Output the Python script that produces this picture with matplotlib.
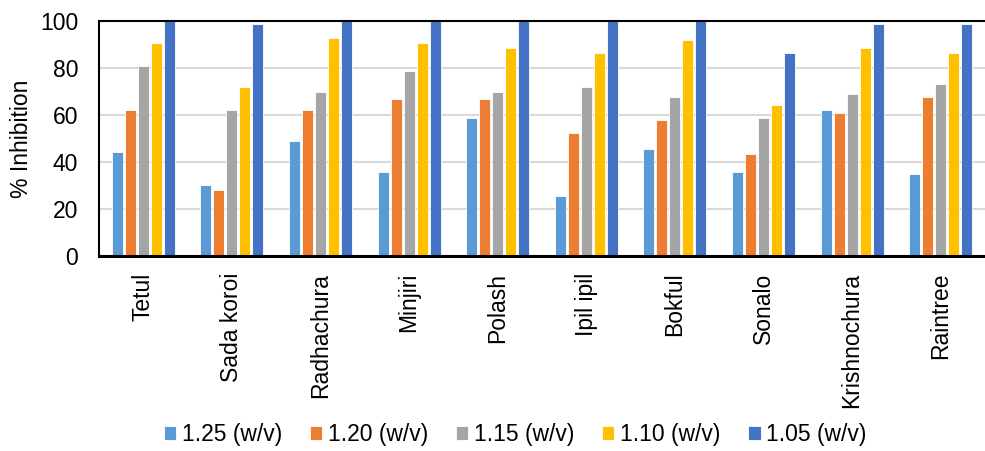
import numpy as np
import matplotlib
matplotlib.use("Agg")
import matplotlib.pyplot as plt

plt.rcParams['font.family'] = ['Liberation Sans', 'DejaVu Sans']

# nombres de las plantas y concentraciones
plantas = ["Tetul", "Sada koroi", "Radhachura", "Minjiri", "Polash",
           "Ipil ipil", "Bokful", "Sonalo", "Krishnochura", "Raintree"]
series = ["1.25 (w/v)", "1.20 (w/v)", "1.15 (w/v)", "1.10 (w/v)", "1.05 (w/v)"]

c125 = [44.4, 30.2, 48.9, 35.7, 58.9, 25.7, 45.5, 35.7, 62.1, 34.8]
c120 = [62.1, 27.9, 62.1, 66.7, 66.7, 52.2, 57.7, 43.4, 61.0, 67.7]
c115 = [80.9, 62.1, 69.8, 78.7, 69.8, 72.1, 67.7, 58.9, 68.8, 73.2]
c110 = [90.8, 72.1, 92.9, 90.8, 88.5, 86.4, 91.8, 64.3, 88.5, 86.4]
c105 = [100, 98.6, 100, 100, 100, 100, 100, 86.4, 98.6, 98.6]

colores = ["#5B9BD5", "#ED7D31", "#A5A5A5", "#FFC000", "#4472C4"]

fig = plt.figure(figsize=(9.85, 4.51), dpi=100)
ax = fig.add_axes([99 / 985, 1 - 256 / 451, 1 - 99 / 985, 235 / 451])

x = np.arange(len(plantas))
paso = 0.147
ancho = 0.125
for i, (vals, nombre) in enumerate(zip([c125, c120, c115, c110, c105], series)):
    ax.bar(x + (i - 2) * paso, vals, width=ancho, color=colores[i],
           edgecolor="white", linewidth=0.6, label=nombre, zorder=3)

ax.set_xlim(-0.5, len(plantas) - 0.5)
ax.set_ylim(0, 100)
ax.set_yticks([0, 20, 40, 60, 80, 100])
ax.yaxis.grid(True, color="#D9D9D9", linewidth=1.5, zorder=0)
ax.set_xticks(x)
ax.set_xticklabels(plantas, rotation=90, fontsize=16.5)
ax.tick_params(axis="y", labelsize=16.5, length=0, pad=15)
ax.tick_params(axis="x", length=0, pad=12)
ax.set_ylabel("% Inhibition", fontsize=16.5, labelpad=5)

for lado in ["left", "top"]:
    ax.spines[lado].set_color("black")
    ax.spines[lado].set_linewidth(1.5)
ax.spines["bottom"].set_linewidth(2.2)
ax.spines["right"].set_visible(False)
for s in ax.spines.values():
    s.set_zorder(5)

fig.legend(loc="center", bbox_to_anchor=(0.523, 16 / 451), ncol=5, frameon=False,
           fontsize=16.5, handlelength=0.55, handleheight=0.55, handletextpad=0.25,
           columnspacing=1.2)

fig.savefig("out.png", dpi=100)
